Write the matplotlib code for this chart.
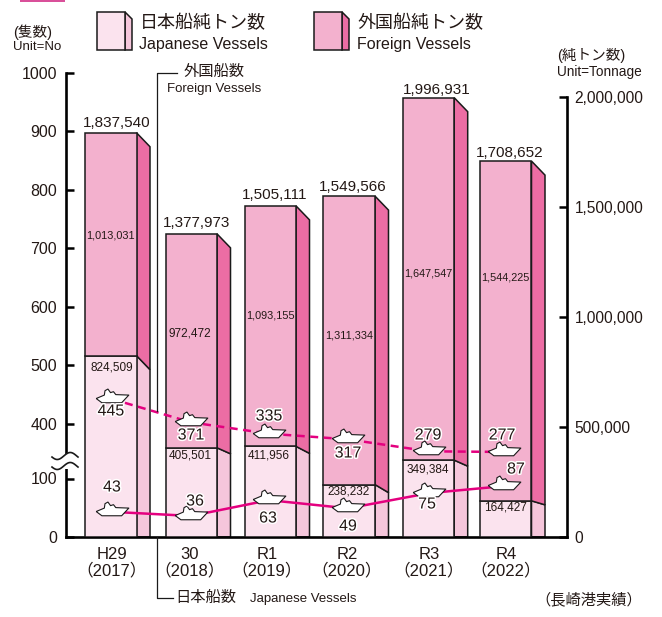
import numpy as np
import matplotlib
matplotlib.use("Agg")
import matplotlib.pyplot as plt
import matplotlib.patheffects as pe
from matplotlib.path import Path
from matplotlib.patches import Polygon, Rectangle

plt.rcParams['font.family'] = ['Liberation Sans', 'Noto Sans CJK JP', 'DejaVu Sans']

# data
years = ["H29\n（2017）", "30\n（2018）", "R1\n（2019）", "R2\n（2020）", "R3\n（2021）", "R4\n（2022）"]
jp_tonnage = [824509, 405501, 411956, 238232, 349384, 164427]
fg_tonnage = [1013031, 972472, 1093155, 1311334, 1647547, 1544225]
total_tonnage = [1837540, 1377973, 1505111, 1549566, 1996931, 1708652]
jp_ships = [43, 36, 63, 49, 75, 87]
fg_ships = [445, 371, 335, 317, 279, 277]

# layout, all in reference pixels
W, H = 662, 617
Y0, Y_TOP = 537, 73
AX_L, AX_R = 66, 567
bar_left = [85, 165.5, 244.5, 323.5, 402.7, 480]
BAR_W = 51.5
SIDE_W = 13.5
TOP_DROP = 14
low_drop = [14, 6, 7, 8, 6, 4]
ship_x = [112, 191, 269, 348, 429, 504]
year_x = [112, 190, 267, 347, 429, 506]
total_pos = [(117, 123), (197, 223), (275, 195), (353, 187), (437, 90), (510, 153)]
fg_label_pos = [(110, 235), (190, 333), (270, 316), (349, 335), (428, 273), (505, 277)]
jp_label_pos = [(112, 367), (190, 456), (269, 456), (349, 492), (428, 469), (505, 508)]
fg_ship_label = [(111, 411), (191, 435), (269, 416), (348, 453), (428, 435), (502, 435)]
jp_ship_label = [(112, 487), (195, 501), (268, 518), (348, 526), (427, 504), (516, 469)]

C_JP, C_JP_SIDE = "#FBE3EE", "#F5C6DB"
C_FG, C_FG_SIDE = "#F3B1CE", "#EC6DA4"
C_LINE = "#E4007F"
C_TEXT = "#231815"
C_EDGE = "#1a1a1a"

fig = plt.figure(figsize=(W / 100, H / 100), dpi=100)
rect = [AX_L / W, 1 - Y0 / H, (AX_R - AX_L) / W, (Y0 - Y_TOP) / H]

# tonnage axis on the right, 2,000,000 sits 440 px above the baseline
ax = fig.add_axes(rect)
ton_per_px = 2000000 / 440
ax.set_xlim(AX_L, AX_R)
ax.set_ylim(0, (Y0 - Y_TOP) * ton_per_px)

for i, x in enumerate(bar_left):
    jp, tot = jp_tonnage[i], total_tonnage[i]
    ax.bar(x, jp, BAR_W, align='edge', color=C_JP, edgecolor=C_EDGE, lw=1.1, zorder=3)
    ax.bar(x, tot - jp, BAR_W, bottom=jp, align='edge', color=C_FG, edgecolor=C_EDGE, lw=1.1, zorder=3)
    xr = x + BAR_W
    d_low = low_drop[i] * ton_per_px
    d_top = TOP_DROP * ton_per_px
    ax.add_patch(Polygon([(xr, 0), (xr + SIDE_W, 0), (xr + SIDE_W, jp - d_low), (xr, jp)],
                         fc=C_JP_SIDE, ec=C_EDGE, lw=1.1, zorder=2))
    ax.add_patch(Polygon([(xr, jp), (xr + SIDE_W, jp - d_low), (xr + SIDE_W, tot - d_top), (xr, tot)],
                         fc=C_FG_SIDE, ec=C_EDGE, lw=1.1, zorder=2))

ax.yaxis.tick_right()
ax.set_yticks([0, 500000, 1000000, 1500000, 2000000])
ax.set_yticklabels(["0", "500,000", "1,000,000", "1,500,000", "2,000,000"], fontsize=11.2, color=C_TEXT)
ax.tick_params(axis='y', direction='in', length=6, width=1.8, pad=5.5)
ax.set_xticks(year_x)
ax.set_xticklabels(years, fontsize=12, color=C_TEXT, linespacing=1.05)
ax.tick_params(axis='x', length=0, pad=7)
for s in ['top', 'left']:
    ax.spines[s].set_visible(False)
ax.spines['right'].set_linewidth(1.9)
ax.spines['right'].set_bounds(0, 2000000)
ax.spines['bottom'].set_linewidth(1.9)


# vessel axis on the left, squeezed between 100 and 400
def to_px(v):
    return np.interp(v, [0, 100, 400, 1000], [0, 58.5, 113.5, 464])


def from_px(p):
    return np.interp(p, [0, 58.5, 113.5, 464], [0, 100, 400, 1000])


ax2 = fig.add_axes(rect, facecolor='none', sharex=ax)
ax2.set_yscale('function', functions=(to_px, from_px))
ax2.set_ylim(0, 1000)
ax2.set_yticks([0, 100, 400, 500, 600, 700, 800, 900, 1000])
ax2.set_yticklabels(["0", "100", "400", "500", "600", "700", "800", "900", "1000"], fontsize=11.5, color=C_TEXT)
ax2.minorticks_off()
ax2.tick_params(axis='y', direction='in', length=6, width=1.8, pad=6.5)
ax2.tick_params(axis='x', bottom=False, labelbottom=False)
for s in ['top', 'right', 'bottom']:
    ax2.spines[s].set_visible(False)
ax2.spines['left'].set_linewidth(1.9)

# ship sits a little above its point, the line meets it near the hull
ship = Path([(-1, 0.06), (-0.65, -0.2), (0.56, -0.2), (1, 0.27), (0.2, 0.3), (0.06, 0.48),
             (-0.12, 0.42), (-0.28, 0.64), (-0.46, 0.54), (-0.5, 0.27), (-1, 0.06)])
ship_style = dict(marker=ship, ms=23.5, mfc='white', mec=C_EDGE, mew=0.8, color=C_LINE, lw=1.8, zorder=5)
ax2.plot(ship_x, jp_ships, **ship_style)[0].set_snap(False)

# the foreign ship line runs on its own linear scale in the original, not on the left ticks
ax3 = fig.add_axes(rect, facecolor='none', sharex=ax)
ax3.set_ylim(7, 1480)
ax3.axis('off')
ax3.plot(ship_x, fg_ships, linestyle=(0, (3.2, 2.2)), **ship_style)[0].set_snap(False)

# overlay in pixel coordinates for labels and furniture
ov = fig.add_axes([0, 0, 1, 1], facecolor='none')
ov.set_xlim(0, W)
ov.set_ylim(H, 0)
ov.axis('off')


def label(x, y, s, size=10, ha='center', **kw):
    kw.setdefault('color', C_TEXT)
    return ov.text(x, y, s, fontsize=size, ha=ha, va='center', **kw)


def inner_size(v):
    # the original sets these condensed, so the long ones go a bit smaller
    return 7.8 if v >= 1000000 else 8.5


halo = [pe.withStroke(linewidth=2.2, foreground='white')]
for i in range(6):
    label(*total_pos[i], f"{total_tonnage[i]:,}", 11)
    label(*fg_label_pos[i], f"{fg_tonnage[i]:,}", inner_size(fg_tonnage[i]))
    label(*jp_label_pos[i], f"{jp_tonnage[i]:,}", inner_size(jp_tonnage[i]))
    label(*fg_ship_label[i], str(fg_ships[i]), 11.5, path_effects=halo)
    label(*jp_ship_label[i], str(jp_ships[i]), 11.5, path_effects=halo)

# axis break
ov.add_patch(Rectangle((60, 454), 12, 15, fc='white', ec='none', zorder=6))
wave_x = np.linspace(52, 78, 40)
for base in (456, 466):
    ov.plot(wave_x, base + 3.5 * np.sin((wave_x - 52) / 26 * 2 * np.pi + 0.3), color=C_EDGE, lw=1.2, zorder=7)

# leader lines
ov.plot([177, 157, 157], [73, 73, 411], color=C_EDGE, lw=0.9, zorder=1)
ov.plot([157, 157, 173], [537, 598, 598], color=C_EDGE, lw=0.9)
label(214, 72, "外国船数", 11)
label(214, 89, "Foreign Vessels", 9.5)
label(206, 598, "日本船数", 11)
label(303, 599, "Japanese Vessels", 9.5)
label(589, 600, "（長崎港実績）", 11)

# units
label(33, 32, "(隻数)", 10.5)
label(37, 47, "Unit=No", 9.5)
label(557, 55, "(純トン数)", 10.5, ha='left')
label(557, 72, "Unit=Tonnage", 9.8, ha='left')

# legend boxes
for x0, front, side in [(97, C_JP, C_JP_SIDE), (314, C_FG, C_FG_SIDE)]:
    ov.add_patch(Polygon([(x0 + 28, 12), (x0 + 35, 19), (x0 + 35, 50), (x0 + 28, 50)], fc=side, ec=C_EDGE, lw=1.1))
    ov.add_patch(Rectangle((x0, 12), 28, 38, fc=front, ec=C_EDGE, lw=1.1))
label(140, 23, "日本船純トン数", 13, ha='left')
label(139, 44, "Japanese Vessels", 11.5, ha='left')
label(357, 23, "外国船純トン数", 13, ha='left')
label(357, 44, "Foreign Vessels", 11.5, ha='left')

# cut off tab at the top edge
ov.add_patch(Rectangle((20, -2), 45, 3.5, fc="#D9509A", ec='none'))

fig.savefig("out.png", dpi=100)
